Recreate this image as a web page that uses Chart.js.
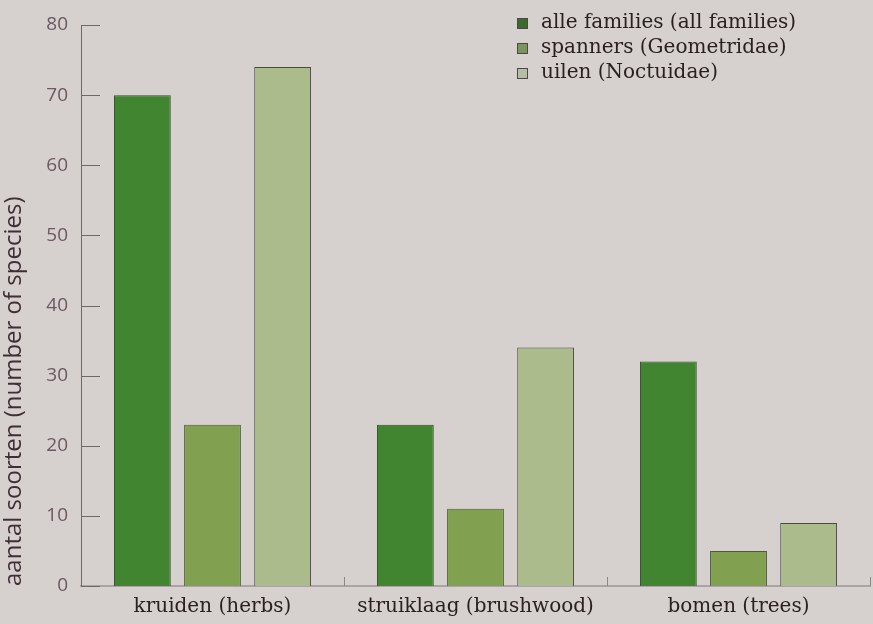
<!DOCTYPE html>
<html lang="nl">
<head>
    <meta charset="UTF-8">
    <title>Aantal soorten per vegetatielaag</title>
    <script src="https://cdn.jsdelivr.net/npm/chart.js"></script>
    <style>
        html, body { margin: 0; padding: 0; background: #d6d1ce; }
        #wrap { width: 873px; height: 624px; position: relative; }
    </style>
</head>
<body>
    <div id="wrap">
        <canvas id="soortenChart"></canvas>
    </div>

    <script>
        // vegetatielagen en aantallen soorten
        const lagen = ['kruiden (herbs)', 'struiklaag (brushwood)', 'bomen (trees)'];
        const alleFamilies = [70, 23, 32];
        const spanners = [23, 11, 5];
        const uilen = [74, 34, 9];
        const yTicks = [0, 10, 20, 30, 40, 50, 60, 70, 80];

        const serif = '"DejaVu Serif", "Liberation Serif", serif';
        const sans = '"Open Sans", "Noto Sans", sans-serif';

        // streepjes naar binnen langs de assen + legenda rechtsboven
        const axisMarks = {
            id: 'axisMarks',
            afterDraw(chart) {
                const ctx = chart.ctx;
                const xs = chart.scales.x, ys = chart.scales.y;
                const area = chart.chartArea;
                ctx.save();
                ctx.strokeStyle = '#6f6868';
                ctx.lineWidth = 1;
                ys.ticks.forEach(t => {
                    const y = Math.round(ys.getPixelForValue(t.value)) + 0.5;
                    ctx.beginPath();
                    ctx.moveTo(area.left, y);
                    ctx.lineTo(area.left + 19, y);
                    ctx.stroke();
                });
                const half = (xs.getPixelForValue(1) - xs.getPixelForValue(0)) / 2;
                ctx.strokeStyle = '#8f8886';
                for (let i = 0; i < lagen.length; i++) {
                    const x = Math.round(xs.getPixelForValue(i) + half) + 0.5;
                    ctx.beginPath();
                    ctx.moveTo(x, area.bottom);
                    ctx.lineTo(x, area.bottom - 9);
                    ctx.stroke();
                }

                // legenda
                ctx.font = '20px ' + serif;
                ctx.textBaseline = 'middle';
                const boxColors = ['#3c6a2c', '#7d9462', '#b6bca6'];
                chart.data.datasets.forEach((ds, i) => {
                    const y = 23 + i * 25;
                    ctx.fillStyle = boxColors[i];
                    ctx.fillRect(517, y - 5, 11, 11);
                    ctx.strokeStyle = '#4a4a44';
                    ctx.strokeRect(517.5, y - 4.5, 10, 10);
                    ctx.fillStyle = '#2a2022';
                    ctx.fillText(ds.label, 541, y);
                });
                ctx.restore();
            }
        };

        new Chart(document.getElementById('soortenChart'), {
            type: 'bar',
            data: {
                labels: lagen,
                datasets: [
                    { label: 'alle families (all families)', data: alleFamilies,
                      backgroundColor: '#418530', borderColor: '#35502c', borderWidth: 1 },
                    { label: 'spanners (Geometridae)', data: spanners,
                      backgroundColor: '#82a150', borderColor: '#4c5a3c', borderWidth: 1 },
                    { label: 'uilen (Noctuidae)', data: uilen,
                      backgroundColor: '#acbb8b', borderColor: '#4a4a44', borderWidth: 1 }
                ]
            },
            options: {
                responsive: true,
                maintainAspectRatio: false,
                animation: false,
                layout: { padding: { top: 25, right: 3, left: 0, bottom: 0 } },
                datasets: {
                    bar: { categoryPercentage: 0.8, barPercentage: 0.81 }
                },
                plugins: {
                    legend: { display: false },
                    tooltip: { enabled: false }
                },
                scales: {
                    x: {
                        grid: { display: false, drawTicks: false },
                        border: { color: '#aaa4a2', width: 2 },
                        ticks: {
                            padding: 9,
                            color: '#2a2022',
                            font: { family: serif, size: 20 }
                        },
                        afterFit(scale) { scale.height = 38; }
                    },
                    y: {
                        min: 0,
                        max: 80,
                        afterBuildTicks(scale) {
                            scale.ticks = yTicks.map(v => ({ value: v }));
                        },
                        grid: { display: false, drawTicks: false },
                        border: { color: '#6f6868', width: 1 },
                        ticks: {
                            padding: 13,
                            color: '#6b5860',
                            font: { family: sans, size: 19 }
                        },
                        title: {
                            display: true,
                            text: 'aantal soorten (number of species)',
                            align: 'start',
                            color: '#3e2f35',
                            font: { family: sans, size: 24 },
                            padding: { top: 0, bottom: 0 }
                        },
                        afterFit(scale) { scale.width = 81; }
                    }
                }
            },
            plugins: [axisMarks]
        });
    </script>
</body>
</html>
